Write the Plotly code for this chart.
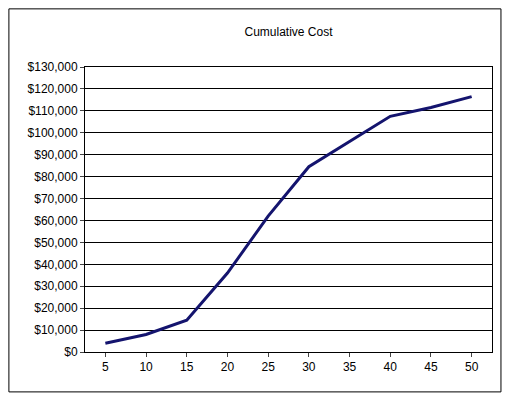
import plotly.graph_objects as go

quantity = [5, 10, 15, 20, 25, 30, 35, 40, 45, 50]
cumulative_cost = [4000, 8000, 14500, 36000, 62000, 84500, 96000, 107500, 111500, 116500]
y_ticks = list(range(0, 130001, 10000))

fig = go.Figure(go.Scatter(
    x=list(range(len(quantity))), y=cumulative_cost, mode='lines',
    line=dict(color='#14146e', width=3)))

fig.update_layout(
    width=494, height=385,
    margin=dict(l=77, r=10, t=59, b=41),
    paper_bgcolor='white', plot_bgcolor='white',
    font=dict(family='Liberation Sans, Arial', size=12, color='black'),
    title=dict(text='Cumulative Cost', x=0.5, xref='paper', y=0.95, font=dict(size=12)),
    showlegend=False,
    xaxis=dict(range=[-0.5, len(quantity) - 0.5], tickvals=list(range(len(quantity))),
               ticktext=[str(q) for q in quantity], showgrid=False, zeroline=False,
               showline=True, linecolor='black', mirror=True, ticks='outside', ticklen=4),
    yaxis=dict(range=[0, 130000], tickvals=y_ticks,
               ticktext=['${:,}'.format(v) for v in y_ticks],
               showgrid=True, gridcolor='black', gridwidth=1, zeroline=False,
               showline=True, linecolor='black', mirror=True, ticks='outside', ticklen=4),
    shapes=[dict(type='rect', xref='paper', yref='paper', x0=-0.187, x1=1.022,
                 y0=-0.140, y1=1.204, line=dict(color='black', width=1))],
)

fig.write_html("out.html")
